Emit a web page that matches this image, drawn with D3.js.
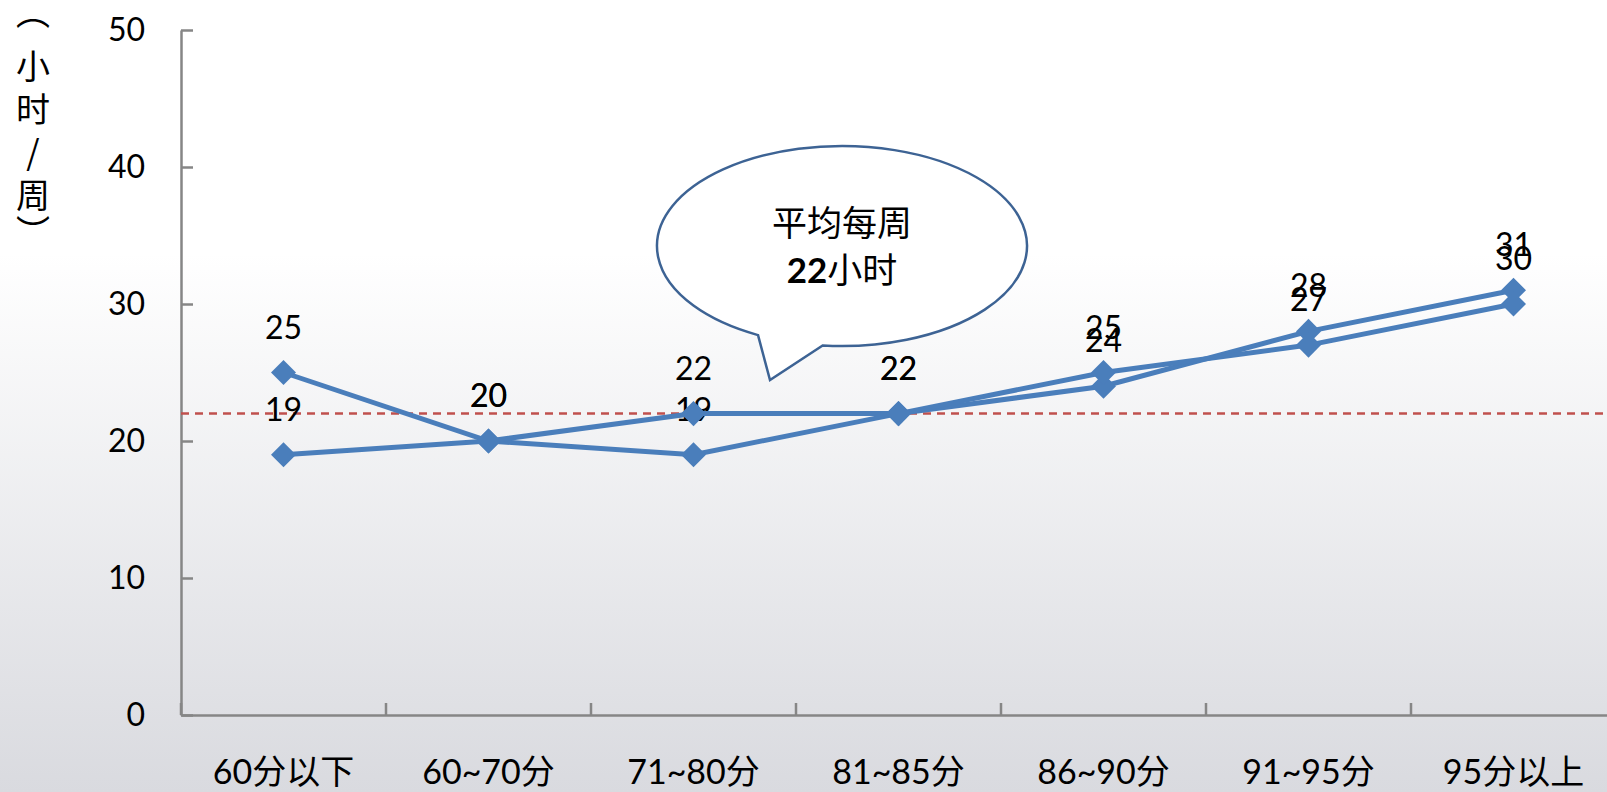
<!DOCTYPE html>
<html lang="zh">
<head>
<meta charset="UTF-8">
<title>每周学习时间与成绩</title>
<script src="https://d3js.org/d3.v7.min.js"></script>
<style>
  body { margin: 0; }
  svg text { font-family: 'Lato', 'Noto Sans CJK SC', sans-serif; fill: #000; }
  .axis path, .axis line { stroke: #868686; stroke-width: 2.5; }
</style>
</head>
<body>
<svg width="1607" height="792"></svg>
<script>
// data
var categories = ["60分以下", "60~70分", "71~80分", "81~85分", "86~90分", "91~95分", "95分以上"];
var seriesA = [25, 20, 19, 22, 24, 28, 31];
var seriesB = [19, 20, 22, 22, 25, 27, 30];
var average = 22;
var yTicks = [0, 10, 20, 30, 40, 50];
var yLabelChars = ["小", "时", "/", "周"];
var calloutLines = ["平均每周", "22小时"];

var width = 1607, height = 792;
var svg = d3.select("svg");

// background: white at the top fading to light gray
var defs = svg.append("defs");
var grad = defs.append("linearGradient").attr("id", "bg")
    .attr("x1", 0).attr("y1", 0).attr("x2", 0).attr("y2", 1);
grad.append("stop").attr("offset", "0%").attr("stop-color", "#ffffff");
grad.append("stop").attr("offset", "32%").attr("stop-color", "#ffffff");
grad.append("stop").attr("offset", "100%").attr("stop-color", "#d9dadf");
svg.append("rect").attr("width", width).attr("height", height).attr("fill", "url(#bg)");

var x = d3.scaleBand().domain(categories).range([181, 1616]);
var y = d3.scaleLinear().domain([0, 50]).range([715, 30]);

// y axis, ticks pointing inward
svg.append("g").attr("class", "axis")
    .attr("transform", "translate(181,0)")
    .call(d3.axisLeft(y).tickValues(yTicks).tickSize(-12).tickPadding(36).tickSizeOuter(0))
    .call(g => g.selectAll("text").style("font-size", "32px").attr("fill", "#000"));

// x axis line plus labels
var xAxis = svg.append("g").attr("class", "axis")
    .attr("transform", "translate(0,715)")
    .call(d3.axisBottom(x).tickSize(0).tickPadding(45).tickSizeOuter(0))
    .call(g => g.selectAll("text").style("font-size", "34px").attr("fill", "#000"));

// boundary ticks between categories
xAxis.selectAll(".sep")
    .data(categories)
    .enter().append("line")
    .attr("x1", d => x(d)).attr("x2", d => x(d))
    .attr("y1", 0).attr("y2", -12)
    .attr("stroke", "#868686").attr("stroke-width", 2.5);

// average dashed line
svg.append("line")
    .attr("x1", 181).attr("x2", 1607)
    .attr("y1", y(average)).attr("y2", y(average))
    .attr("stroke", "#c0504d").attr("stroke-width", 2.5)
    .attr("stroke-dasharray", "8,6");

var cx = d => x(d) + x.bandwidth() / 2;
var line = d3.line().x(d => cx(d.c)).y(d => y(d.v));
var diamond = d3.symbol().type(d3.symbolDiamond2).size(400);

[seriesA, seriesB].forEach(function(vals) {
    var pts = vals.map((v, i) => ({ c: categories[i], v: v }));
    svg.append("path").datum(pts)
        .attr("d", line)
        .attr("fill", "none")
        .attr("stroke", "#4a7ebb")
        .attr("stroke-width", 5);
    svg.selectAll(null).data(pts).enter().append("path")
        .attr("d", diamond)
        .attr("transform", d => "translate(" + cx(d.c) + "," + y(d.v) + ")")
        .attr("fill", "#4a7ebb");
    svg.selectAll(null).data(pts).enter().append("text")
        .attr("x", d => cx(d.c))
        .attr("y", d => y(d.v) - 34)
        .attr("text-anchor", "middle")
        .style("font-size", "32px")
        .text(d => d.v);
});

// speech bubble callout
var bx = 842, by = 246, rx = 185, ry = 100;
svg.append("path")
    .attr("d", function() {
        var a1 = 117 * Math.PI / 180, a2 = 96 * Math.PI / 180;
        var p1 = [bx + rx * Math.cos(a1), by + ry * Math.sin(a1)];
        var p2 = [bx + rx * Math.cos(a2), by + ry * Math.sin(a2)];
        return "M" + p2 + " A" + rx + "," + ry + " 0 1 0 " + p1 +
               " L770,380 Z";
    })
    .attr("fill", "#ffffff")
    .attr("stroke", "#3d6394")
    .attr("stroke-width", 2.5);

svg.append("text").attr("x", 842).attr("y", 236).attr("text-anchor", "middle")
    .style("font-size", "35px").text(calloutLines[0]);
var t2 = svg.append("text").attr("x", 842).attr("y", 283).attr("text-anchor", "middle")
    .style("font-size", "35px");
t2.append("tspan").style("font-weight", "bold").text(calloutLines[1].slice(0, 2));
t2.append("tspan").text(calloutLines[1].slice(2));

// vertical y axis title with vertical-form brackets
var yt = svg.append("g");
yt.append("text").attr("x", 33).attr("y", 10).attr("text-anchor", "middle")
    .attr("dominant-baseline", "central").style("font-size", "34px")
    .style("font-family", "'Noto Sans CJK SC', sans-serif").text("︵");
yt.selectAll(null).data(yLabelChars).enter().append("text")
    .attr("x", 33)
    .attr("y", (d, i) => 64 + i * 43)
    .attr("text-anchor", "middle")
    .attr("dominant-baseline", "central")
    .style("font-size", "34px")
    .style("font-family", "'Noto Sans CJK SC', sans-serif")
    .text(d => d);
yt.append("text").attr("x", 33).attr("y", 230).attr("text-anchor", "middle")
    .attr("dominant-baseline", "central").style("font-size", "34px")
    .style("font-family", "'Noto Sans CJK SC', sans-serif").text("︶");
</script>
</body>
</html>
